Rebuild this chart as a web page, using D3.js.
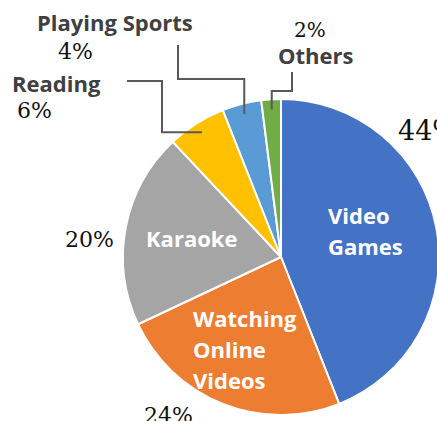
<!DOCTYPE html>
<html>
<head>
<meta charset="utf-8">
<script src="https://cdn.jsdelivr.net/npm/d3@7"></script>
<style>
  html, body { margin: 0; padding: 0; background: #fff; overflow: hidden; }
  svg { display: block; }
</style>
</head>
<body>
<svg id="chart" width="437" height="421"></svg>
<script>
// ---- data ----
const categories = ["Video Games", "Watching Online Videos", "Karaoke", "Reading", "Playing Sports", "Others"];
const values = [44, 24, 20, 6, 4, 2];
const percentLabels = ["44%", "24%", "20%", "6%", "4%", "2%"];
const colors = ["#4472C4", "#ED7D31", "#A5A5A5", "#FFC000", "#5B9BD5", "#70AD47"];

// ---- layout ----
const W = 437, H = 421;
const cx = 281, cy = 257, R = 158;
const svg = d3.select("#chart");
const g = svg.append("g").attr("transform", `translate(${cx},${cy})`);

const pie = d3.pie().sort(null).value(d => d.v);
const arcs = pie(categories.map((c, i) => ({ name: c, v: values[i], i })));
const arc = d3.arc().innerRadius(0).outerRadius(R);

g.selectAll("path.slice").data(arcs).enter().append("path")
  .attr("class", "slice")
  .attr("d", arc)
  .attr("fill", d => colors[d.data.i])
  .attr("stroke", "#fff")
  .attr("stroke-width", 2)
  .attr("stroke-linejoin", "round");

const boldFont = "'Open Sans', 'Noto Sans', sans-serif";
const serifFont = "'DejaVu Serif', 'Liberation Serif', serif";

// inside labels (white)
const inside = {
  0: { x: 328, lines: ["Video", "Games"], y0: 224, anchor: "start" },
  1: { x: 193, lines: ["Watching", "Online", "Videos"], y0: 327, anchor: "start" },
  2: { x: 146, lines: ["Karaoke"], y0: 247, anchor: "start" }
};
Object.keys(inside).forEach(k => {
  const o = inside[k];
  const t = svg.append("text")
    .attr("font-family", boldFont).attr("font-weight", 700)
    .attr("font-size", 22).attr("fill", "#fff")
    .attr("text-anchor", o.anchor);
  o.lines.forEach((ln, j) => {
    t.append("tspan").attr("x", o.x).attr("y", o.y0 + j * 31).text(ln);
  });
});

// outside category names (dark gray bold)
const outsideNames = {
  3: { x: 12, y: 92 },
  4: { x: 37, y: 31 },
  5: { x: 278, y: 64 }
};
Object.keys(outsideNames).forEach(k => {
  const o = outsideNames[k];
  svg.append("text")
    .attr("x", o.x).attr("y", o.y)
    .attr("font-family", boldFont).attr("font-weight", 700)
    .attr("font-size", 22).attr("fill", "#404040")
    .text(categories[k]);
});

// percentage labels
const pctPos = [
  { x: 398, y: 140, s: 27 },
  { x: 144, y: 423, s: 22 },
  { x: 65, y: 247, s: 22 },
  { x: 17, y: 118, s: 22 },
  { x: 58, y: 59, s: 22 },
  { x: 294, y: 37, s: 20 }
];
percentLabels.forEach((p, i) => {
  svg.append("text")
    .attr("x", pctPos[i].x).attr("y", pctPos[i].y)
    .attr("font-family", serifFont)
    .attr("font-size", pctPos[i].s).attr("fill", "#111")
    .text(p);
});

// leader lines: end points derived from arc geometry
const leaderArc = d3.arc().innerRadius(0).outerRadius(R * 0.935);
function endPoint(i) {
  const a = (arcs[i].startAngle + arcs[i].endAngle) / 2;
  const r = R * 0.935;
  return [cx + Math.sin(a) * r, cy - Math.cos(a) * r];
}
const leaders = [];
{
  const e = endPoint(4); // Playing Sports
  leaders.push([[178, 45], [178, 79], [e[0], 79], e]);
}
{
  const e = endPoint(3); // Reading
  leaders.push([[127, 81], [162, 81], [162, e[1]], e]);
}
{
  const e = endPoint(5); // Others
  leaders.push([[292, 72], [292, 91], [e[0], 91], e]);
}
const line = d3.line();
svg.selectAll("path.leader").data(leaders).enter().append("path")
  .attr("class", "leader")
  .attr("d", line)
  .attr("fill", "none")
  .attr("stroke", "#595959")
  .attr("stroke-width", 2);
</script>
</body>
</html>
